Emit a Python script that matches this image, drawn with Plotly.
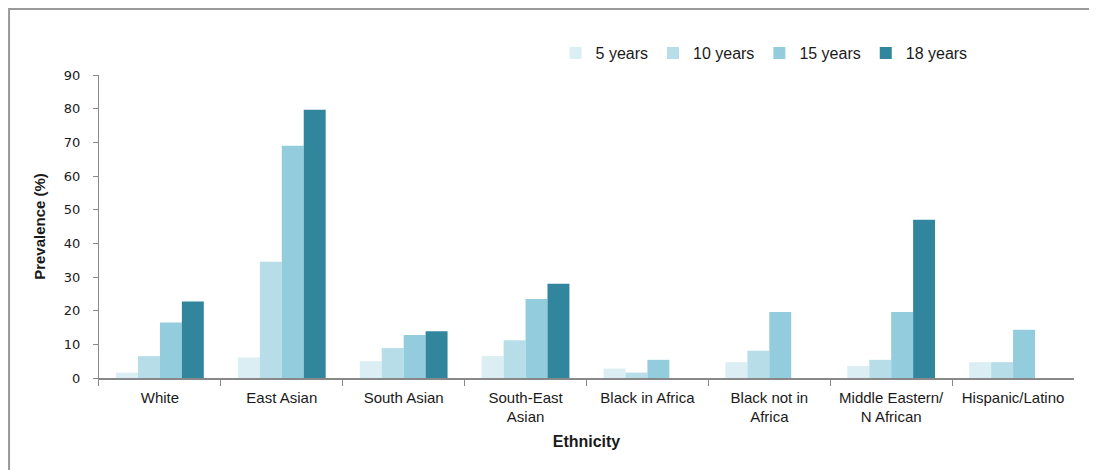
import plotly.graph_objects as go

categories = ["White", "East Asian", "South Asian", "South-East<br>Asian", "Black in Africa",
              "Black not in<br>Africa", "Middle Eastern/<br>N African", "Hispanic/Latino"]
series_names = ["5 years", "10 years", "15 years", "18 years"]
v5 = [1.6, 6.1, 5.0, 6.5, 2.8, 4.7, 3.6, 4.7]
v10 = [6.5, 34.5, 8.9, 11.2, 1.6, 8.1, 5.4, 4.7]
v15 = [16.5, 69.0, 12.8, 23.5, 5.4, 19.6, 19.6, 14.3]
v18 = [22.7, 79.7, 13.9, 28.0, None, None, 47.0, None]
colors = ["#DBEEF3", "#B7DEE8", "#93CDDD", "#31859C"]

fig = go.Figure()
for name, vals, c in zip(series_names, [v5, v10, v15, v18], colors):
    fig.add_trace(go.Bar(name=name, x=categories, y=vals, marker=dict(color=c, line=dict(width=0))))

fig.update_layout(
    width=1097, height=470,
    barmode="group", bargap=0.28, bargroupgap=0,
    plot_bgcolor="white", paper_bgcolor="white",
    margin=dict(l=10, r=10, t=10, b=10),
    font=dict(family="Liberation Sans, Arial, sans-serif", size=15, color="#1a1a1a"),
    legend=dict(orientation="h", x=0.6927, y=0.922, xanchor="center", yanchor="middle",
                font=dict(size=16), itemwidth=30, traceorder="normal"),
    showlegend=True,
)
fig.update_yaxes(range=[0, 90], dtick=10, showgrid=False, showline=True, linecolor="#888888",
                 linewidth=1, ticks="outside", ticklen=5, tickcolor="#888888",
                 ticklabelstandoff=10,
                 tickfont=dict(size=13, family="DejaVu Sans, Verdana, sans-serif"),
                 title=dict(text="<b>Prevalence (%)</b>", font=dict(size=15), standoff=14),
                 zeroline=False, automargin=False, domain=[0.2, 0.8733])
fig.update_xaxes(showgrid=False, showline=True, linecolor="#888888", linewidth=1.5,
                 ticks="outside", ticklen=6, tickcolor="#888888", tickson="boundaries",
                 ticklabelstandoff=5,
                 tickfont=dict(size=15), automargin=False, domain=[0.0752, 0.9805],
                 title=dict(text="<b>Ethnicity</b>", font=dict(size=16), standoff=12))
fig.add_shape(type="rect", xref="paper", yref="paper", x0=-0.0083, x1=0.9975, y0=-0.1, y1=1.02,
              line=dict(color="#999999", width=2), fillcolor="rgba(0,0,0,0)", layer="below")
fig.write_html("out.html")
